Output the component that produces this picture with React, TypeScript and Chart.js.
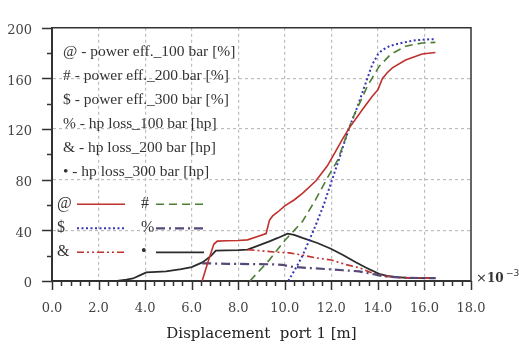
import { useEffect, useRef } from 'react';
import { Chart, registerables } from 'chart.js';

Chart.register(...registerables);

// ---------- data (x in 1e-3 m) ----------
const seriesSymbols = ['@', '#', '$', '%', '&', '•'];
const seriesNames = [
  'power eff._100 bar [%]',
  'power eff._200 bar [%]',
  'power eff._300 bar [%]',
  'hp loss_100 bar [hp]',
  'hp loss_200 bar [hp]',
  'hp loss_300 bar [hp]',
];

const pe100X = [6.45, 6.7, 6.95, 7.1, 7.5, 8.0, 8.4, 8.8, 9.2, 9.34, 9.48, 9.7, 10.0, 10.4, 10.76, 11.33, 11.83, 12.05, 12.48, 12.76, 13.33, 13.76, 14.0, 14.19, 14.4, 14.62, 15.19, 15.9, 16.47];
const pe100Y = [0, 15, 29, 31.5, 31.8, 32, 32.5, 35, 37.5, 48, 51.4, 54.5, 59.4, 64, 69.2, 79, 91, 98, 112, 120.6, 135.3, 146, 151, 159.8, 164.5, 168.3, 174.5, 179.3, 180.5];

const pe200X = [8.5, 9.34, 10.0, 10.76, 11.33, 11.83, 12.26, 12.62, 12.9, 13.33, 13.55, 14.05, 14.55, 15.19, 15.9, 16.47];
const pe200Y = [0, 16.7, 32, 47, 64.4, 81.5, 95, 113, 128, 145, 154, 169.5, 179, 185.5, 188, 188.5];

const pe300X = [10.15, 10.5, 10.76, 11.0, 11.26, 11.5, 11.69, 12.05, 12.4, 12.62, 12.83, 13.05, 13.4, 13.76, 14.0, 14.19, 14.5, 14.76, 15.48, 16.0, 16.47];
const pe300Y = [0, 11, 20, 30, 41, 52, 61, 81, 100, 113, 124, 134, 152.4, 171, 179, 182.5, 185.5, 187, 189.8, 190.8, 191];

const hp100X = [6.45, 7.5, 8.5, 9.4, 9.9, 10.2, 11.0, 11.9, 12.5, 13.19, 13.76, 14.1, 14.5, 14.9, 15.3, 16.0, 16.47];
const hp100Y = [14, 13.6, 13.4, 13.2, 12.8, 11.5, 10.3, 9.3, 8.5, 7.6, 5.6, 4.2, 3.3, 2.8, 2.5, 2.3, 2.3];

const hp200X = [8.4, 8.8, 9.2, 9.62, 10.19, 10.6, 11.33, 12.0, 12.62, 13.19, 13.62, 13.9, 14.2, 14.6, 15.0, 15.5, 16.0, 16.47];
const hp200Y = [24.8, 24.2, 23.5, 22.8, 22.2, 21, 18.3, 16.6, 13, 10.5, 7.3, 5.6, 4.2, 3.2, 2.7, 2.4, 2.3, 2.3];

const hp300X = [0, 2.8, 3.2, 3.48, 3.77, 4.05, 4.5, 4.9, 5.55, 6.0, 6.48, 6.84, 7.04, 7.5, 8.0, 8.4, 8.8, 9.34, 9.7, 10.12, 10.4, 10.76, 11.4, 11.98, 12.5, 13.05, 13.5, 14.05, 14.4, 14.8, 15.3, 16.0, 16.47];
const hp300Y = [0, 0, 1, 2, 4.4, 6.8, 7.2, 7.6, 9.3, 11, 14.9, 20, 24, 24.2, 24.4, 24.8, 27.5, 31.3, 34, 37.4, 36.5, 34, 30, 25.5, 20.5, 14.8, 10.5, 5.6, 4, 3, 2.5, 2.3, 2.3];

const xTicksStep = 2;
const xMinorStep = 0.4;
const xMin = 0;
const xMax = 18;
const yTicksStep = 40;
const yMinorStep = 20;
const yMin = 0;
const yMax = 200;

const seriesX = [pe100X, pe200X, pe300X, hp100X, hp200X, hp300X];
const seriesY = [pe100Y, pe200Y, pe300Y, hp100Y, hp200Y, hp300Y];

const styles = [
  { color: '#c0302c', dash: [] as number[], width: 1.6 },
  { color: '#4e7d35', dash: [8, 5], width: 1.6 },
  { color: '#3535b5', dash: [2, 2.5], width: 2 },
  { color: '#564878', dash: [9, 4, 2, 4], width: 2.2 },
  { color: '#c0302c', dash: [7, 3, 2, 3, 2, 3], width: 1.6 },
  { color: '#2b2b2b', dash: [] as number[], width: 1.8 },
];

const AXIS_COLOR = '#333';
const GRID_COLOR = '#bdbdbd';

const overlayPlugin = {
  id: 'overlay',
  afterDraw(chart: any) {
    const { ctx, chartArea: a, scales } = chart;
    const xs = scales.x;
    const ys = scales.y;
    ctx.save();
    // frame (top & right)
    ctx.strokeStyle = AXIS_COLOR;
    ctx.lineWidth = 1.5;
    ctx.setLineDash([]);
    ctx.beginPath();
    ctx.moveTo(a.left, a.top);
    ctx.lineTo(a.right, a.top);
    ctx.lineTo(a.right, a.bottom);
    ctx.stroke();

    // x tick marks
    ctx.lineWidth = 1.5;
    const nx = Math.round((xMax - xMin) / xMinorStep);
    const perMajorX = Math.round(xTicksStep / xMinorStep);
    for (let i = 0; i <= nx; i++) {
      const px = Math.round(xs.getPixelForValue(xMin + i * xMinorStep)) + 0.5;
      const len = i % perMajorX === 0 ? 9 : 5;
      ctx.beginPath();
      ctx.moveTo(px, a.bottom);
      ctx.lineTo(px, a.bottom + len);
      ctx.stroke();
    }
    // y tick marks
    const ny = Math.round((yMax - yMin) / yMinorStep);
    const perMajorY = Math.round(yTicksStep / yMinorStep);
    for (let i = 0; i <= ny; i++) {
      const py = Math.round(ys.getPixelForValue(yMin + i * yMinorStep)) + 0.5;
      const len = i % perMajorY === 0 ? 10 : 5;
      ctx.beginPath();
      ctx.moveTo(a.left, py);
      ctx.lineTo(a.left - len, py);
      ctx.stroke();
    }

    // legend text
    ctx.fillStyle = '#333';
    ctx.textBaseline = 'middle';
    ctx.textAlign = 'left';
    ctx.font = '15.5px "Liberation Serif"';
    seriesNames.forEach((n, i) => {
      ctx.fillText(`${seriesSymbols[i]} - ${n}`, a.left + 11, a.top + 24 + i * 24);
    });
    // legend samples
    const dss = chart.data.datasets;
    seriesSymbols.forEach((s, i) => {
      const row = Math.floor(i / 2);
      const col = i % 2;
      const y = a.top + 176 + row * 24;
      ctx.fillStyle = '#333';
      ctx.font = '16px "Liberation Serif"';
      ctx.fillText(s, a.left + 5 + col * 84, y);
      const ds = dss[i];
      ctx.strokeStyle = ds.borderColor;
      ctx.lineWidth = ds.borderWidth;
      ctx.setLineDash(ds.borderDash || []);
      ctx.beginPath();
      ctx.moveTo(a.left + 25 + col * 79, y + 0.5);
      ctx.lineTo(a.left + 73 + col * 79, y + 0.5);
      ctx.stroke();
    });
    ctx.setLineDash([]);

    // exponent label
    ctx.fillStyle = '#333';
    const y = a.bottom - 2;
    ctx.font = '13px "DejaVu Sans"';
    ctx.fillText('×', a.right + 5, y);
    ctx.font = 'bold 12px "DejaVu Serif"';
    ctx.fillText('10', a.right + 16, y);
    ctx.font = '9px "DejaVu Sans"';
    ctx.fillText('−3', a.right + 35, y - 5);
    ctx.restore();
  },
};

export default function App() {
  const ref = useRef<HTMLCanvasElement | null>(null);
  useEffect(() => {
    if (!ref.current) return;
    const datasets = seriesX.map((xsArr, i) => ({
      label: seriesNames[i],
      data: xsArr.map((x, j) => ({ x, y: seriesY[i][j] })),
      borderColor: styles[i].color,
      backgroundColor: styles[i].color,
      borderDash: styles[i].dash,
      borderWidth: styles[i].width,
      pointRadius: 0,
      fill: false,
      tension: 0,
    }));
    const chart = new Chart(ref.current, {
      type: 'line',
      data: { datasets },
      options: {
        animation: false,
        responsive: true,
        maintainAspectRatio: false,
        layout: { padding: { top: 10, right: 48, left: 0, bottom: 0 } },
        plugins: { legend: { display: false }, tooltip: { enabled: false } },
        scales: {
          x: {
            type: 'linear',
            min: xMin,
            max: xMax,
            afterFit: (s: any) => { s.height = 66; },
            ticks: {
              stepSize: xTicksStep,
              padding: 20,
              color: '#444',
              font: { family: '"DejaVu Serif"', size: 13 },
              callback: (v: any) => Number(v).toFixed(1),
              maxRotation: 0,
              autoSkip: false,
            },
            grid: {
              drawTicks: false,
              color: (c: any) => (c.tick && (c.tick.value === xMin || c.tick.value === xMax) ? 'rgba(0,0,0,0)' : GRID_COLOR),
              lineWidth: 1.2,
            },
            border: { display: true, color: AXIS_COLOR, width: 2, dash: [3, 3] },
            title: {
              display: true,
              text: 'Displacement  port 1 [m]',
              color: '#222',
              font: { family: '"DejaVu Serif"', size: 15 },
              padding: { top: 0, bottom: 4 },
            },
          },
          y: {
            type: 'linear',
            min: yMin,
            max: yMax,
            afterFit: (s: any) => { s.width = 52; },
            ticks: {
              stepSize: yTicksStep,
              padding: 20,
              labelOffset: 3,
              color: '#444',
              font: { family: '"DejaVu Serif"', size: 13 },
            },
            grid: {
              drawTicks: false,
              color: (c: any) => (c.tick && (c.tick.value === yMin || c.tick.value === yMax) ? 'rgba(0,0,0,0)' : GRID_COLOR),
              lineWidth: 1.2,
            },
            border: { display: true, color: AXIS_COLOR, width: 2, dash: [3, 3] },
          },
        },
      },
      plugins: [overlayPlugin],
    });
    return () => chart.destroy();
  }, []);
  return (
    <div style={{ position: 'fixed', left: 0, top: 0, width: 519, height: 347, background: '#fff' }}>
      <canvas ref={ref} />
    </div>
  );
}
